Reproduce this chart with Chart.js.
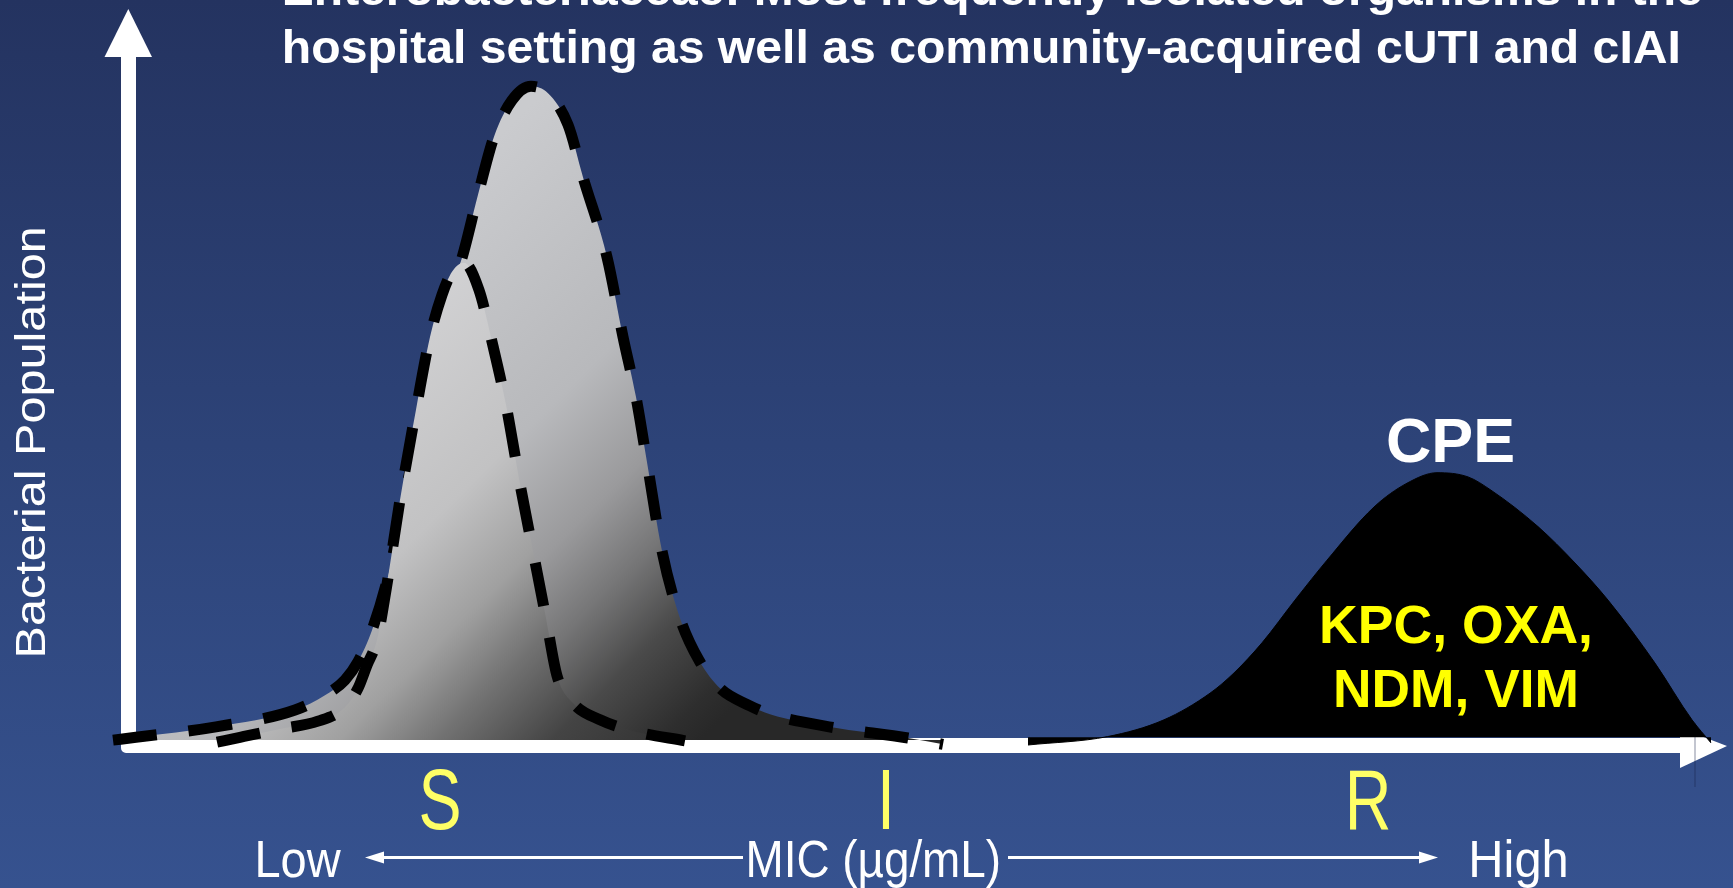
<!DOCTYPE html>
<html>
<head>
<meta charset="utf-8">
<script src="https://cdn.jsdelivr.net/npm/chart.js@4.4.1/dist/chart.umd.min.js"></script>
<style>
  html, body { margin: 0; padding: 0; background: #2c4177; overflow: hidden; }
  canvas { display: block; }
</style>
</head>
<body>
<canvas id="mic" width="1733" height="888"></canvas>
<script>
// MIC position (arbitrary units, low -> high) and relative bacterial population
const wideSusceptibleX = [3.3, 5.6, 13.6, 21.5, 24.5, 26.5, 27.8, 29.2, 30.9, 32.6, 34.3, 36.0, 37.2, 38.2, 39.8, 41.4, 43.2, 45.1, 46.8, 48.8, 50.3, 52.7, 54.3, 55.6, 56.7, 58.2, 60.0, 61.9, 64.0, 67.0, 69.0, 74.9, 82.8, 86.3];
const wideSusceptibleY = [0.7, 1.1, 2.6, 5.0, 7.1, 9.3, 11.9, 16.4, 24.6, 36.4, 47.9, 59.3, 65.7, 69.6, 78.6, 86.9, 92.1, 94.1, 93.1, 88.6, 81.1, 69.7, 58.3, 49.7, 40.4, 27.7, 18.1, 12.1, 8.1, 5.6, 4.4, 2.6, 1.0, 0.1];

const narrowSusceptibleX = [13.7, 16.0, 20.0, 23.8, 26.5, 27.8, 28.7, 29.7, 30.6, 32.0, 33.6, 35.0, 36.2, 37.2, 38.4, 39.9, 41.3, 42.6, 44.0, 45.3, 46.6, 47.7, 49.3, 52.0, 55.6, 60.5];
const narrowSusceptibleY = [0.4, 1.1, 2.3, 3.4, 5.4, 8.1, 11.4, 15.0, 22.1, 35.0, 47.9, 58.3, 64.3, 67.6, 68.9, 65.0, 57.0, 48.6, 37.3, 27.7, 18.1, 9.9, 6.0, 3.6, 1.9, 0.6];

const cpeX = [94.8, 102.75, 108.4, 113.0, 115.4, 118.2, 121.5, 124.7, 129.4, 132.7, 135.7, 138.8, 141.1, 145.8, 149.5, 152.8, 157.5, 161.2, 163.1];
const cpeY = [0.0, 1.2, 3.6, 7.4, 10.3, 14.6, 20.7, 26.4, 34.0, 37.4, 38.9, 38.3, 36.4, 31.2, 26.0, 20.7, 11.7, 3.6, 0.3];

// Interpretive categories along the MIC axis
const categoryLabels = ['S', 'I', 'R'];
const categoryX = [36.0, 80.6, 128.8];

const titleLines = [
  'Enterobacteriaceae: Most frequently isolated organisms in the',
  'hospital setting as well as community-acquired cUTI and cIAI'
];
const yAxisTitle = 'Bacterial Population';
const xAxisTitle = 'MIC (µg/mL)';
const lowLabel = 'Low';
const highLabel = 'High';
const cpeLabel = 'CPE';
const cpeEnzymes = ['KPC, OXA,', 'NDM, VIM'];

const FONT = "'Liberation Sans', Arial, sans-serif";

function toPoints(xs, ys) {
  return xs.map((x, i) => ({ x: x, y: ys[i] }));
}

// Draw text whose ink spans exactly inkWidth, starting at left
function fitText(ctx, text, left, baseline, inkWidth) {
  ctx.textAlign = 'left';
  ctx.textBaseline = 'alphabetic';
  const m = ctx.measureText(text);
  const natural = m.actualBoundingBoxLeft + m.actualBoundingBoxRight;
  const sx = inkWidth / natural;
  ctx.save();
  ctx.translate(left, baseline);
  ctx.scale(sx, 1);
  ctx.fillText(text, m.actualBoundingBoxLeft, 0);
  ctx.restore();
}

// Draw text centred on cx with a horizontal squeeze factor
function squeezedCentre(ctx, text, cx, baseline, sx) {
  ctx.save();
  ctx.translate(cx, baseline);
  ctx.scale(sx, 1);
  ctx.textAlign = 'center';
  ctx.textBaseline = 'alphabetic';
  ctx.fillText(text, 0, 0);
  ctx.restore();
}

function greyFill(stops) {
  return (c) => {
    const chart = c.chart;
    if (!chart.chartArea) return '#999';
    const g = chart.ctx.createLinearGradient(300, 330, 700, 740);
    stops.forEach(s => g.addColorStop(s[0], s[1]));
    return g;
  };
}

const backgroundPlugin = {
  id: 'slideBackground',
  beforeDraw(chart) {
    const { ctx, width, height } = chart;
    const g = ctx.createLinearGradient(0, 0, 0, height);
    g.addColorStop(0, '#243360');
    g.addColorStop(0.5, '#2d4378');
    g.addColorStop(1, '#36528f');
    ctx.save();
    ctx.fillStyle = g;
    ctx.fillRect(0, 0, width, height);
    ctx.restore();
  }
};

const axesPlugin = {
  id: 'arrowAxes',
  beforeDatasetsDraw(chart) {
    const { ctx } = chart;
    const xl = 121, xr = 136;      // vertical shaft
    const yt = 738, yb = 753;      // horizontal shaft
    ctx.save();
    ctx.fillStyle = '#ffffff';
    // L-shaped axes with a rounded outer corner
    ctx.beginPath();
    ctx.moveTo(xl, 56);
    ctx.lineTo(xr, 56);
    ctx.lineTo(xr, yt);
    ctx.lineTo(1681, yt);
    ctx.lineTo(1681, yb);
    ctx.lineTo(xl + 5, yb);
    ctx.arcTo(xl, yb, xl, yb - 5, 5);
    ctx.closePath();
    ctx.fill();
    // arrow heads
    ctx.beginPath();
    ctx.moveTo(128.3, 9);
    ctx.lineTo(152, 57);
    ctx.lineTo(104.5, 57);
    ctx.closePath();
    ctx.fill();
    ctx.beginPath();
    ctx.moveTo(1727, 746);
    ctx.lineTo(1680, 728);
    ctx.lineTo(1680, 768);
    ctx.closePath();
    ctx.fill();
    // thin guide line near the arrow head
    ctx.strokeStyle = 'rgba(25,35,75,0.35)';
    ctx.lineWidth = 1.5;
    ctx.beginPath();
    ctx.moveTo(1695, 723);
    ctx.lineTo(1695, 787);
    ctx.stroke();
    ctx.restore();
  }
};

const labelsPlugin = {
  id: 'slideLabels',
  afterDraw(chart) {
    const { ctx } = chart;
    const xs = chart.scales.x;
    ctx.save();

    // title
    ctx.fillStyle = '#ffffff';
    ctx.font = 'bold 46px ' + FONT;
    fitText(ctx, titleLines[0], 285, 5, 1417);
    fitText(ctx, titleLines[1], 285, 63, 1393);

    // y axis title
    ctx.font = '42px ' + FONT;
    ctx.save();
    ctx.translate(45, 655);
    ctx.rotate(-Math.PI / 2);
    fitText(ctx, yAxisTitle, 0, 0, 426);
    ctx.restore();

    // S / I / R
    ctx.fillStyle = '#ffff66';
    ctx.font = '85px ' + FONT;
    categoryLabels.forEach((t, i) => {
      squeezedCentre(ctx, t, xs.getPixelForValue(categoryX[i]), 829, 0.76);
    });

    // Low <— MIC —> High
    ctx.fillStyle = '#ffffff';
    ctx.font = '52px ' + FONT;
    fitText(ctx, lowLabel, 258, 877, 83);
    fitText(ctx, xAxisTitle, 749, 877, 250);
    fitText(ctx, highLabel, 1472, 877, 94);

    ctx.strokeStyle = '#ffffff';
    ctx.lineWidth = 3;
    ctx.beginPath();
    ctx.moveTo(380, 857.5);
    ctx.lineTo(743, 857.5);
    ctx.moveTo(1008, 857.5);
    ctx.lineTo(1422, 857.5);
    ctx.stroke();
    ctx.fillStyle = '#ffffff';
    ctx.beginPath();
    ctx.moveTo(365, 857.5);
    ctx.lineTo(384, 851.5);
    ctx.lineTo(384, 863.5);
    ctx.closePath();
    ctx.fill();
    ctx.beginPath();
    ctx.moveTo(1438, 857.5);
    ctx.lineTo(1419, 851.5);
    ctx.lineTo(1419, 863.5);
    ctx.closePath();
    ctx.fill();

    // CPE annotation
    ctx.fillStyle = '#ffffff';
    ctx.font = 'bold 63px ' + FONT;
    fitText(ctx, cpeLabel, 1388, 462, 125);

    ctx.fillStyle = '#ffff00';
    ctx.font = 'bold 54px ' + FONT;
    fitText(ctx, cpeEnzymes[0], 1322, 643, 268);
    fitText(ctx, cpeEnzymes[1], 1336, 707, 240);

    ctx.restore();
  }
};

const dashedCurve = {
  borderColor: '#000000',
  borderWidth: 11,
  borderDash: [44, 32],
  borderCapStyle: 'butt',
  borderJoinStyle: 'round',
  pointRadius: 0,
  cubicInterpolationMode: 'monotone',
  clip: false
};

new Chart(document.getElementById('mic'), {
  type: 'line',
  data: {
    datasets: [
      Object.assign({
        label: 'Susceptible (narrow)',
        data: toPoints(narrowSusceptibleX, narrowSusceptibleY),
        order: 0,
        fill: { value: 0.7 },
        backgroundColor: greyFill([[0, '#d7d7d9'], [0.4, '#c2c2c3'], [0.56, '#a0a0a0'], [0.68, '#727272'], [0.82, '#444444'], [1, '#2e2e2e']])
      }, dashedCurve),
      Object.assign({
        label: 'Susceptible (wide)',
        data: toPoints(wideSusceptibleX, wideSusceptibleY),
        order: 1,
        fill: { value: 0.7 },
        backgroundColor: greyFill([[0, '#cacbce'], [0.4, '#b8b9bc'], [0.58, '#9a9a9c'], [0.7, '#767677'], [0.82, '#4a4a4a'], [0.95, '#2e2e2e'], [1, '#282828']])
      }, dashedCurve),
      {
        label: 'CPE',
        data: toPoints(cpeX, cpeY),
        order: 2,
        borderColor: '#000000',
        borderWidth: 1,
        backgroundColor: '#000000',
        fill: { value: 1.1 },
        pointRadius: 0,
        cubicInterpolationMode: 'monotone',
        clip: false
      }
    ]
  },
  options: {
    responsive: false,
    animation: false,
    events: [],
    layout: { padding: { left: 80, right: 3, top: 45, bottom: 143 } },
    scales: {
      x: { type: 'linear', min: 0, max: 165, display: false },
      y: { type: 'linear', min: 0, max: 100, display: false }
    },
    plugins: {
      legend: { display: false },
      tooltip: { enabled: false }
    }
  },
  plugins: [backgroundPlugin, axesPlugin, labelsPlugin]
});
</script>
</body>
</html>
